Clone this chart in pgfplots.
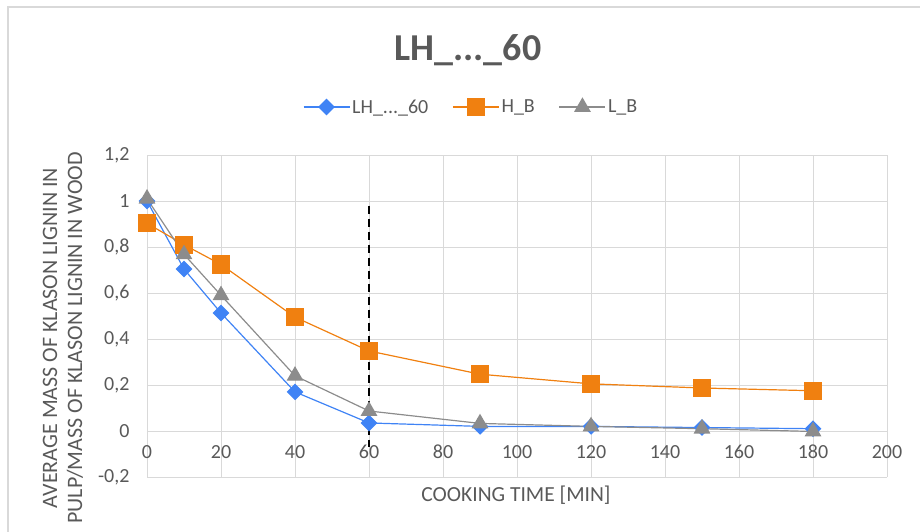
\documentclass[border=0pt]{standalone}
\usepackage{fontspec}
\setmainfont{Carlito}
\usepackage{pgfplots}
\pgfplotsset{compat=1.18}
\definecolor{cblue}{HTML}{3F83F5}
\definecolor{corange}{HTML}{F08010}
\definecolor{cgray}{HTML}{8C8C8C}
\definecolor{cgrid}{HTML}{D9D9D9}
\definecolor{ctext}{HTML}{595959}
\begin{document}
\begin{tikzpicture}
\path[use as bounding box] (0,0) rectangle (920pt,531pt);
\draw[cgrid, line width=1.5pt] (8pt,-5pt) -- (8pt,524pt) -- (930pt,524pt);
\node[font=\fontsize{38}{44}\selectfont\bfseries, text=ctext] at (468pt,481pt) {LH\_...\_60};
\begin{axis}[
  at={(147pt,54pt)}, anchor=south west, scale only axis,
  width=740pt, height=322pt,
  xmin=0, xmax=200, ymin=-0.2, ymax=1.2,
  xtick={0,20,40,60,80,100,120,140,160,180,200},
  ytick={-0.2,0,0.2,0.4,0.6,0.8,1,1.2},
  grid=major, major grid style={cgrid, line width=1pt},
  axis line style={draw=none}, major tick length=0pt,
  tick label style={font=\fontsize{20}{24}\selectfont, text=ctext},
  xticklabel style={anchor=center, yshift=25pt},
  yticklabel style={xshift=-14pt},
  /pgf/number format/.cd, use comma, assume math mode=true,
  /pgfplots/.cd,
  clip=false,
  legend columns=3,
  legend style={at={(0.438,1.149)}, anchor=center, draw=none, fill=none,
    font=\fontsize{20}{24}\selectfont, text=ctext,
    /tikz/every even column/.append style={column sep=22pt}},
  legend image code/.code={\draw[mark repeat=2,mark phase=2] plot coordinates {(0pt,0pt)(23pt,0pt)(46pt,0pt)};},
]
\addplot[cblue, line width=1.2pt, mark=square*, mark size=5.3pt, mark options={rotate=45, fill=cblue, draw=cblue}]
  coordinates {(0,1.0) (10,0.704) (20,0.513) (40,0.17) (60,0.035) (90,0.02) (120,0.02) (150,0.015) (180,0.01)};
\addlegendentry{LH\_...\_60}
\addplot[corange, line width=1.2pt, mark=square*, mark size=8.5pt, mark options={fill=corange, draw=corange}]
  coordinates {(0,0.903) (10,0.81) (20,0.724) (40,0.495) (60,0.348) (90,0.247) (120,0.205) (150,0.187) (180,0.175)};
\addlegendentry{H\_B}
\addplot[cgray, line width=1.2pt, mark=triangle*, mark size=8.5pt, mark options={fill=cgray, draw=cgray}]
  coordinates {(0,1.01) (10,0.768) (20,0.59) (40,0.24) (60,0.087) (90,0.033) (120,0.02) (150,0.01) (180,-0.002)};
\addlegendentry{L\_B}
\addplot[black, line width=2.8pt, dash pattern=on 8pt off 5pt, forget plot]
  coordinates {(60,0.98) (60,-0.07)};
\end{axis}
\node[font=\fontsize{21.5}{25}\selectfont, text=ctext] at (516pt,36pt) {COOKING TIME [MIN]};
\node[font=\fontsize{22}{25}\selectfont, text=ctext, rotate=90, align=center] at (63pt,193pt)
  {AVERAGE MASS OF KLASON LIGNIN IN\\PULP/MASS OF KLASON LIGNIN IN WOOD};
\end{tikzpicture}
\end{document}
